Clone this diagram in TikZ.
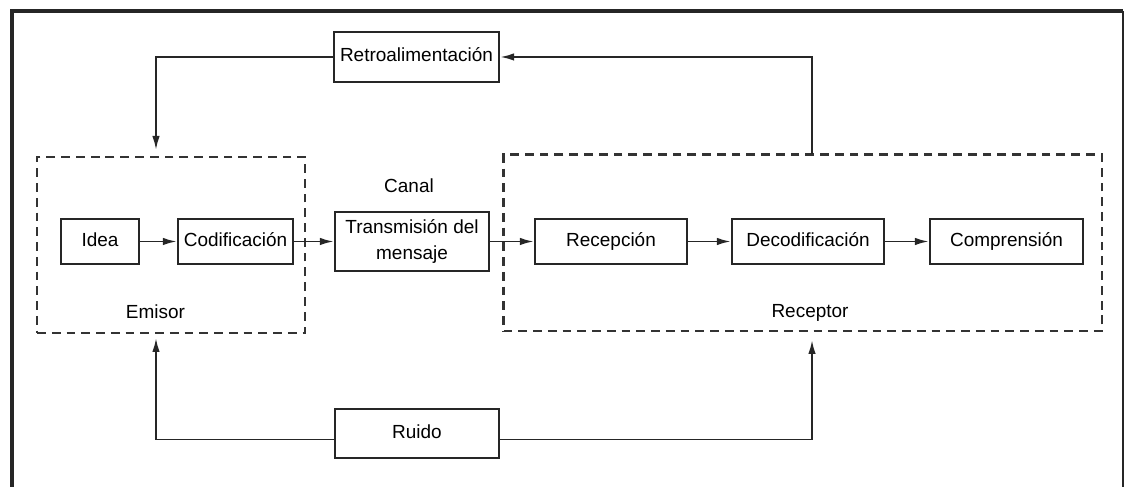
\documentclass[tikz,border=0pt]{standalone}
\usepackage{fontspec}
\setmainfont{Liberation Sans}
\usetikzlibrary{arrows.meta}

\begin{document}
\begin{tikzpicture}[
            blocknode/.style={rectangle, draw=black!85, line width=1.3pt, minimum height=9mm, inner sep=0pt, align=center, font=\fontsize{10.8}{14.5}\selectfont},
            onelinenode/.style={blocknode, text height=8pt, text depth=2.3pt},
            groupnode/.style={rectangle, draw=black!80, line width=1.2pt, dash pattern=on 5pt off 3.4pt, inner sep=0pt},
            flow/.style={-{Latex[length=2.8mm,width=1.5mm]}, draw=black!85, line width=1.1pt},
            tag/.style={anchor=base, font=\fontsize{10.8}{13}\selectfont}
          ]
          \useasboundingbox (0,0) rectangle (22.5,9.74);

          %Frame
          \draw[black!85, line width=2.2pt] (0.24,-0.2) -- (0.24,9.52) -- (22.46,9.52);
          \draw[black!85, line width=1.2pt] (22.46,9.52) -- (22.46,-0.2);

          %Groups
          \node[groupnode, minimum width=5.36cm, minimum height=3.52cm] at (3.42,4.84) (emisor) {};
          \node[groupnode, minimum width=11.97cm, minimum height=3.53cm] at (16.055,4.885) (receptor) {};

          %Nodes
          \node[onelinenode, minimum width=1.56cm] at (2.0,4.91) (idea) {Idea};
          \node[onelinenode, minimum width=2.3cm] at (4.71,4.91) (codif) {Codificación};
          \node[blocknode, minimum width=3.08cm, minimum height=1.18cm] at (8.24,4.91) (trans) {Transmisión del\\mensaje};
          \node[onelinenode, minimum width=3.04cm] at (12.22,4.91) (recep) {Recepción};
          \node[onelinenode, minimum width=3.04cm] at (16.16,4.91) (decod) {Decodificación};
          \node[onelinenode, minimum width=3.06cm] at (20.13,4.91) (compr) {Comprensión};
          \node[onelinenode, minimum width=3.3cm, minimum height=1.0cm] at (8.33,8.6) (retro) {Retroalimentación};
          \node[onelinenode, minimum width=3.28cm, minimum height=0.98cm] at (8.34,1.07) (ruido) {Ruido};

          %Ends of the loops
          \coordinate (emisorin) at (3.12,6.74);
          \coordinate (emisorup) at (3.12,2.98);
          \coordinate (receptorout) at (16.24,6.65);
          \coordinate (receptorup) at (16.24,2.94);

          %Lines
          \draw[flow] (idea) -- (codif);
          \draw[flow] (codif) -- (trans);
          \draw[flow] (trans) -- (recep);
          \draw[flow] (recep) -- (decod);
          \draw[flow] (decod) -- (compr);
          \draw[flow] (receptorout) |- (retro.east);
          \draw[flow] (retro.west) -| (emisorin);
          \draw[flow] ([yshift=-1.2mm]ruido.west) -| (emisorup);
          \draw[flow] ([yshift=-1.2mm]ruido.east) -| (receptorup);

          %Labels
          \node[tag] at (8.18,5.88) (canal) {Canal};
          \node[tag] at (3.11,3.36) (emisorlabel) {Emisor};
          \node[tag] at (16.2,3.38) (receptorlabel) {Receptor};

        \end{tikzpicture}
\end{document}
